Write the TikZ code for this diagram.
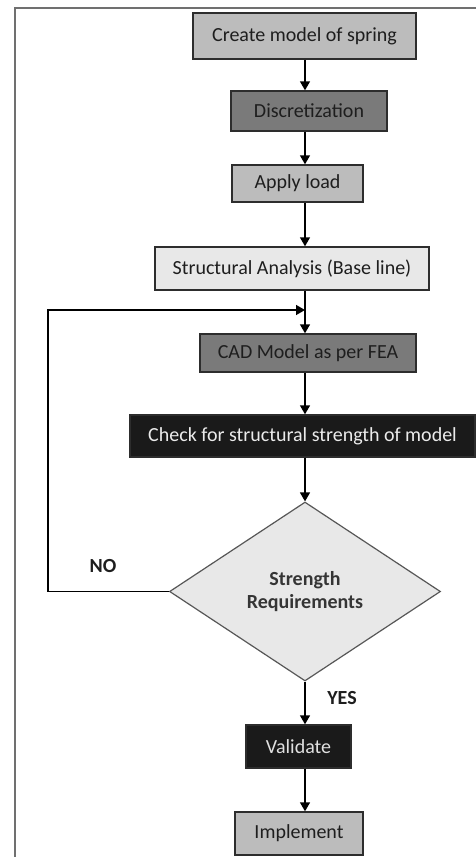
\documentclass[tikz,border=0pt]{standalone}
\usepackage{fontspec}
\setmainfont{Carlito}
\usetikzlibrary{arrows.meta,shapes.geometric}

\definecolor{framegray}{RGB}{112,112,112}
\definecolor{boxline}{RGB}{45,45,45}
\definecolor{palefill}{RGB}{232,232,232}
\definecolor{midfill}{RGB}{188,188,188}
\definecolor{darkfill}{RGB}{122,122,122}
\definecolor{blackfill}{RGB}{26,26,26}
\definecolor{inktext}{RGB}{30,30,30}

\tikzset{
	stage/.style={draw=boxline,line width=1.4pt,inner sep=0pt,text=inktext,
		font=\fontsize{20}{24}\selectfont},
	decision/.style={diamond,draw=boxline!80,line width=1.2pt,fill=palefill,inner sep=0pt,
		align=center,text=inktext!90,font=\fontsize{20}{23}\selectfont\bfseries},
	answer/.style={text=inktext,font=\fontsize{20}{24}\selectfont\bfseries},
	flow/.style={line width=1.4pt,-{Triangle[length=9pt,width=10pt]}}
}

\begin{document}
\begin{tikzpicture}[x=1pt,y=-1pt]

		\useasboundingbox (0,0) rectangle (476,857);
		\draw[framegray,line width=2.4pt] (476,8) -- (15,8) -- (15,857);

		\coordinate(spine) at (305,0);
		\coordinate(loop) at (48,0);
		\coordinate(j) at (305,310);

		\node(1) at (304.5,36)[stage,fill=midfill,minimum width=223pt,minimum height=46pt]{Create model of spring};
		\node(2) at (309,111)[stage,fill=darkfill,minimum width=156pt,minimum height=40pt]{Discretization};
		\node(3) at (297.5,183.5)[stage,fill=midfill,minimum width=131pt,minimum height=37pt]{Apply load};
		\node(4) at (292,268.5)[stage,fill=palefill,minimum width=274pt,minimum height=43pt]{Structural Analysis (Base line)};
		\node(5) at (308,353)[stage,fill=darkfill,minimum width=216pt,minimum height=38pt]{CAD Model as per FEA};
		\node(6) at (302.5,436)[stage,fill=blackfill,text=white!92!black,minimum width=345pt,minimum height=42pt]{Check for structural strength of model};
		\node(7) at (305,591.5)[decision,minimum width=271pt,minimum height=179pt]{Strength\\Requirements};
		\node(8) at (298.5,746.5)[stage,fill=blackfill,text=white!88!black,minimum width=105pt,minimum height=43pt]{Validate};
		\node(9) at (299,833.5)[stage,fill=midfill,minimum width=128pt,minimum height=43pt]{Implement};

		\node(no) at (103,566)[answer]{NO};
		\node(yes) at (342,698)[answer]{YES};

			\draw[flow] (1.south -| spine) -- (2.north -| spine);
			\draw[flow] (2.south -| spine) -- (3.north -| spine);
			\draw[flow] (3.south -| spine) -- (4.north -| spine);
			\draw[flow] (4.south -| spine) -- (5.north -| spine);
			\draw[flow] (7.west) -- (7.west -| loop) |- (j);
			\draw[flow] (5.south -| spine) -- (6.north -| spine);
			\draw[flow] (6.south -| spine) -- (7.north);
			\draw[flow] (7.south) -- (8.north -| spine);
			\draw[flow] (8.south -| spine) -- (9.north -| spine);

\end{tikzpicture}
\end{document}
